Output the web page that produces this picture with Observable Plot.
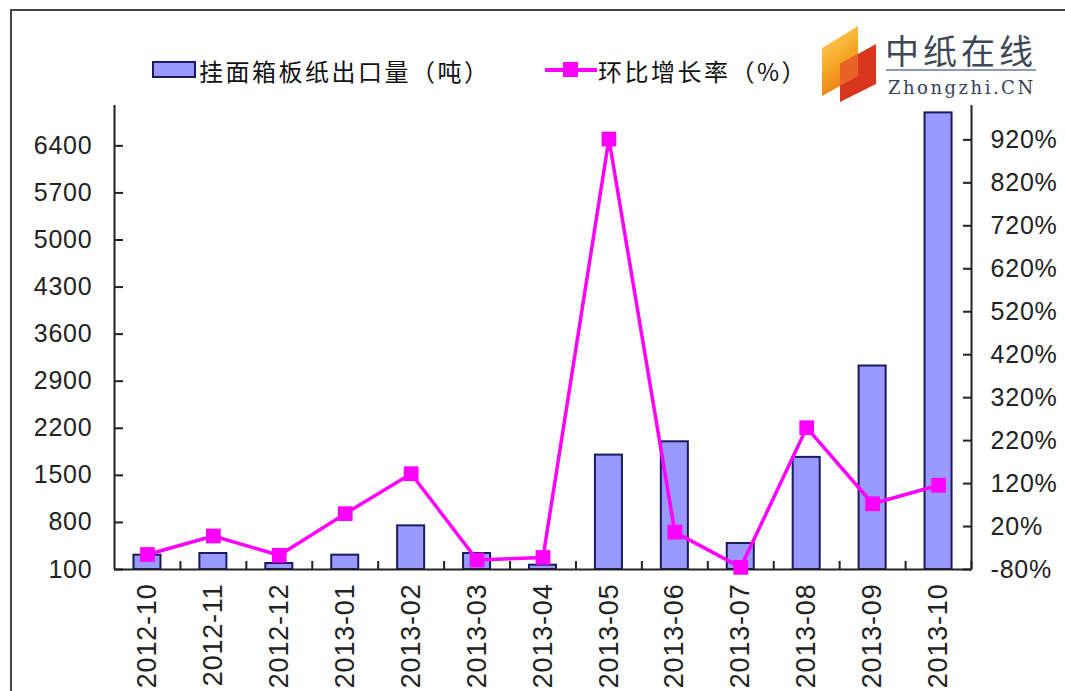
<!DOCTYPE html>
<html>
<head>
<meta charset="utf-8">
<script src="https://cdn.jsdelivr.net/npm/d3@7"></script>
<script src="https://cdn.jsdelivr.net/npm/@observablehq/plot@0.6"></script>
<style>
  html, body { margin: 0; padding: 0; background: #fff; }
  #wrap { position: relative; width: 1065px; height: 691px; overflow: hidden; background: #fff; }
  #frame { position: absolute; left: 10px; top: 9px; width: 1100px; height: 720px; border-left: 2px solid #444; border-top: 2px solid #444; }
  #legend { position: absolute; left: 0; top: 0; width: 1065px; height: 100px; font-family: "Noto Sans CJK SC", sans-serif; font-size: 24px; letter-spacing: 2.5px; color: #111; }
  .lg { position: absolute; white-space: nowrap; }
  #logo { position: absolute; left: 810px; top: 18px; }
  #chart { position: absolute; left: 0; top: 0; }
  #chart svg text { letter-spacing: 0.8px; }
</style>
</head>
<body>
<div id="wrap">
  <div id="chart"></div>
  <div id="frame"></div>
  <div id="legend"></div>
  <svg id="logo" width="240" height="90" viewBox="0 0 240 90">
    <defs>
      <linearGradient id="og" x1="0" y1="0" x2="0.4" y2="1">
        <stop offset="0" stop-color="#ffd66b"/>
        <stop offset="0.6" stop-color="#f5a623"/>
        <stop offset="1" stop-color="#ec7a12"/>
      </linearGradient>
    </defs>
    <polygon points="12,30 48,8 48,58 12,78" fill="url(#og)"/>
    <polygon points="30,46 66,26 66,66 30,84" fill="#d9361e"/>
    <polygon points="30,46 48,36 48,58 30,68" fill="#e7632a"/>
    <text x="75" y="46" font-family="Noto Sans CJK SC" font-size="34" fill="#3d4856" letter-spacing="4">中纸在线</text>
    <line x1="76" y1="52" x2="226" y2="52" stroke="#8a9bb8" stroke-width="2"/>
    <text x="78" y="76" font-family="DejaVu Serif, Liberation Serif, serif" font-size="18" fill="#34405a" letter-spacing="2.5">Zhongzhi.CN</text>
  </svg>
</div>
<script>
// ---- data ----
const categories = ["2012-10","2012-11","2012-12","2013-01","2013-02","2013-03","2013-04","2013-05","2013-06","2013-07","2013-08","2013-09","2013-10"];
const exportVolume = [313, 338, 189, 313, 749, 338, 164, 1801, 1999, 487, 1767, 3126, 6890]; // 挂面箱板纸出口量（吨）
const momGrowth = [-45, -2, -47, 50, 143, -58, -52, 922, 7, -75, 250, 73, 116];          // 环比增长率（%）
const leftTicks = [100, 800, 1500, 2200, 2900, 3600, 4300, 5000, 5700, 6400];
const rightTicks = [-80, 20, 120, 220, 320, 420, 520, 620, 720, 820, 920];
const seriesNames = ["挂面箱板纸出口量（吨）", "环比增长率（%）"];

// axis domains
const leftDomain = [100, 7000];
const rightDomain = [-80, 1000];

// map right-axis (percent) values into the left axis units
const toLeft = p => leftDomain[0] + (p - rightDomain[0]) * (leftDomain[1] - leftDomain[0]) / (rightDomain[1] - rightDomain[0]);
const fromLeft = v => rightDomain[0] + (v - leftDomain[0]) * (rightDomain[1] - rightDomain[0]) / (leftDomain[1] - leftDomain[0]);

const data = categories.map((m, i) => ({month: m, volume: exportVolume[i], growth: momGrowth[i]}));

const W = 1065, H = 691, mL = 114, mR = 94, mT = 105, mB = 122;
const step = (W - mL - mR) / categories.length;

const barColor = "#9999FF", barStroke = "#1a1a5e", lineColor = "#FF00FF", axisColor = "#222";
const font = "'Liberation Sans', Arial, sans-serif";

const chart = Plot.plot({
  width: W, height: H,
  marginLeft: mL, marginRight: mR, marginTop: mT, marginBottom: mB,
  style: {fontFamily: font, fontSize: "25px", color: "#222", background: "transparent", overflow: "visible"},
  x: {domain: categories, paddingInner: 0.59, paddingOuter: 0.295, round: false},
  y: {domain: leftDomain},
  marks: [
    Plot.barY(data, {x: "month", y1: leftDomain[0], y2: "volume", fill: barColor, stroke: barStroke, strokeWidth: 2}),
    // category separators on the x axis (inward ticks)
    Plot.ruleX(categories, {x: d => d, y1: leftDomain[0], y2: leftDomain[0], insetTop: -8, dx: step / 2, stroke: axisColor, strokeWidth: 2}),
    // axis lines
    Plot.ruleY([leftDomain[0]], {stroke: axisColor, strokeWidth: 2}),
    Plot.ruleX([categories[0]], {x: d => d, y1: leftDomain[0], y2: leftDomain[1], dx: -step / 2, stroke: axisColor, strokeWidth: 2}),
    Plot.ruleX([categories[categories.length - 1]], {x: d => d, y1: leftDomain[0], y2: leftDomain[1], dx: step / 2, stroke: axisColor, strokeWidth: 2}),
    // left axis
    Plot.axisY({anchor: "left", ticks: leftTicks, tickSize: 0, tickPadding: 22, tickFormat: d => String(d), label: null}),
    Plot.axisY({anchor: "left", ticks: leftTicks, tickSize: -9, tickFormat: () => "", stroke: axisColor, strokeWidth: 2, label: null}),
    // right axis
    Plot.axisY({anchor: "right", ticks: rightTicks.map(toLeft), tickSize: 0, tickPadding: 19, tickFormat: d => Math.round(fromLeft(d)) + "%", label: null}),
    Plot.axisY({anchor: "right", ticks: rightTicks.map(toLeft), tickSize: -9, tickFormat: () => "", stroke: axisColor, strokeWidth: 2, label: null}),
    // x axis
    Plot.axisX({tickRotate: -90, tickSize: 0, tickPadding: 14, fontSize: 27, label: null}),
    // growth line
    Plot.line(data, {x: "month", y: d => toLeft(d.growth), stroke: lineColor, strokeWidth: 3.5}),
    Plot.dot(data, {x: "month", y: d => toLeft(d.growth), symbol: "square", r: 8.3, fill: lineColor, stroke: "none"})
  ]
});
document.getElementById("chart").appendChild(chart);

// ---- legend ----
const legend = document.getElementById("legend");
legend.innerHTML = `
  <div class="lg" style="left:152px;top:61px;width:44px;height:17px;background:${barColor};border:2px solid ${barStroke};box-sizing:border-box;"></div>
  <div class="lg" style="left:199px;top:53px;">${seriesNames[0]}</div>
  <div class="lg" style="left:545px;top:68px;width:52px;height:3.5px;background:${lineColor};"></div>
  <div class="lg" style="left:563px;top:62px;width:15px;height:15px;background:${lineColor};"></div>
  <div class="lg" style="left:598px;top:53px;">${seriesNames[1]}</div>
`;
</script>
</body>
</html>
